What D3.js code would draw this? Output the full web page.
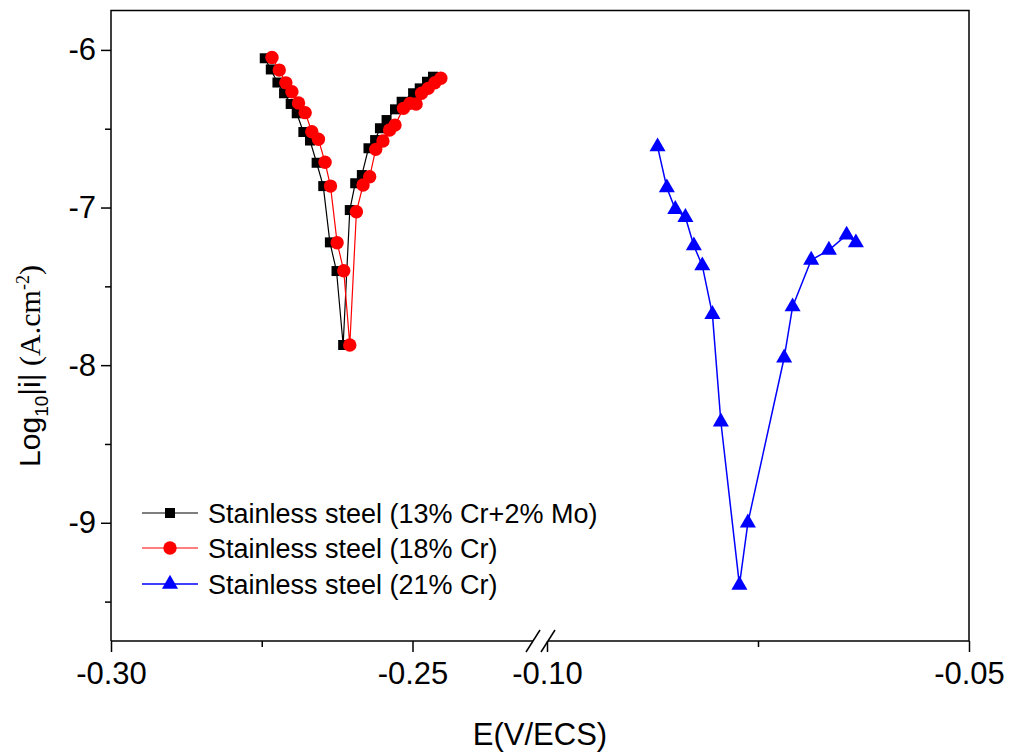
<!DOCTYPE html>
<html>
<head>
<meta charset="utf-8">
<script src="https://cdn.jsdelivr.net/npm/d3@7"></script>
<style>
  html, body { margin: 0; padding: 0; background: #fff; }
  svg { display: block; }
  text { font-family: "Liberation Sans", Arial, sans-serif; fill: #000; }
</style>
</head>
<body>
<svg id="chart" width="1010" height="752"></svg>
<script>
// Polarisation curves: potential E (V/ECS) vs log10 |i| (A.cm-2)

// 13% Cr + 2% Mo
const eMo = [-0.2745, -0.2735, -0.2724, -0.2713, -0.2702, -0.2692, -0.2681, -0.2670, -0.2659, -0.2648, -0.2637, -0.2626, -0.2615,
             -0.2604, -0.2595, -0.2584, -0.2573, -0.2562, -0.2554, -0.2543, -0.2529, -0.2518, -0.2499, -0.2488, -0.2476, -0.2466];
const iMo = [-6.053, -6.124, -6.207, -6.275, -6.343, -6.402, -6.521, -6.575, -6.716, -6.864, -7.221, -7.403, -7.872,
             -7.016, -6.846, -6.794, -6.624, -6.572, -6.497, -6.445, -6.377, -6.329, -6.275, -6.244, -6.202, -6.170];

// 18% Cr
const eCr18 = [-0.2733, -0.2721, -0.2710, -0.2700, -0.2689, -0.2678, -0.2667, -0.2656, -0.2645, -0.2636, -0.2625, -0.2614, -0.2604,
               -0.2593, -0.2582, -0.2571, -0.2561, -0.2549, -0.2538, -0.2529, -0.2515, -0.2504, -0.2494, -0.2485, -0.2474, -0.2463, -0.2453];
const iCr18 = [-6.048, -6.128, -6.209, -6.265, -6.337, -6.398, -6.519, -6.567, -6.713, -6.864, -7.223, -7.401, -7.872,
               -7.027, -6.857, -6.805, -6.631, -6.578, -6.508, -6.477, -6.371, -6.339, -6.343, -6.275, -6.244, -6.208, -6.180];

// 21% Cr
const eCr21 = [-0.0869, -0.0858, -0.0848, -0.0836, -0.0826, -0.0816, -0.0804, -0.0794, -0.0772, -0.0762,
               -0.0719, -0.0709, -0.0687, -0.0666, -0.0645, -0.0634];
const iCr21 = [-6.614, -6.874, -7.011, -7.062, -7.242, -7.369, -7.678, -8.359, -9.395, -9.000,
               -7.953, -7.629, -7.333, -7.270, -7.174, -7.223];

const seriesNames = ["Stainless steel (13% Cr+2% Mo)", "Stainless steel (18% Cr)", "Stainless steel (21% Cr)"];
const seriesColors = ["#000000", "#ff0000", "#0000ff"];

// Broken x axis: two segments
const xLeftDomain = [-0.30, -0.23];
const xRightDomain = [-0.10, -0.05];
const xLeftMajor = [-0.30, -0.25], xLeftMinor = [-0.275];
const xRightMajor = [-0.10, -0.05], xRightMinor = [-0.075];
const yDomain = [-9.75, -5.75];
const yMajor = [-9, -8, -7, -6], yMinor = [-9.5, -8.5, -7.5, -6.5];

const svg = d3.select("#chart");
const L = 111, R = 969, T = 10.5, B = 641;
const xLeft = d3.scaleLinear().domain(xLeftDomain).range([L, L + 0.07 * 6030]);
const xRight = d3.scaleLinear().domain(xRightDomain).range([547, R]);
const y = d3.scaleLinear().domain(yDomain).range([B, T]);

const xOf = e => (e <= -0.2 ? xLeft(e) : xRight(e));

// Frame: top, left, right; bottom drawn in two pieces around the break
const frame = svg.append("g").attr("stroke", "#000").attr("stroke-width", 1.5).attr("fill", "none");
frame.append("path").attr("d", `M${L},${B}V${T}H${R}V${B}`);
frame.append("line").attr("x1", L).attr("x2", 533).attr("y1", B).attr("y2", B);
frame.append("line").attr("x1", 548).attr("x2", R).attr("y1", B).attr("y2", B);
// break marks
[[533], [548]].forEach(([cx]) => {
  frame.append("line").attr("x1", cx - 7).attr("y1", B + 11).attr("x2", cx + 7).attr("y2", B - 11);
});

const fmtX = d => d.toFixed(2);
function xAxis(scale, major, minor) {
  const gMaj = svg.append("g").attr("transform", `translate(0,${B})`)
    .call(d3.axisBottom(scale).tickValues(major).tickSize(11).tickSizeOuter(0).tickPadding(10).tickFormat(fmtX));
  gMaj.select(".domain").remove();
  gMaj.selectAll("line").attr("stroke-width", 1.5);
  gMaj.selectAll("text").attr("font-size", 31).attr("font-family", "Liberation Sans, Arial, sans-serif");
  const gMin = svg.append("g").attr("transform", `translate(0,${B})`)
    .call(d3.axisBottom(scale).tickValues(minor).tickSize(6).tickSizeOuter(0).tickFormat(""));
  gMin.select(".domain").remove();
  gMin.selectAll("line").attr("stroke-width", 1.5);
}
xAxis(xLeft, xLeftMajor, xLeftMinor);
xAxis(xRight, xRightMajor, xRightMinor);

const gy = svg.append("g").attr("transform", `translate(${L},0)`)
  .call(d3.axisLeft(y).tickValues(yMajor).tickSize(10).tickSizeOuter(0).tickPadding(5).tickFormat(d => String(d)));
gy.select(".domain").remove();
gy.selectAll("line").attr("stroke-width", 1.5);
gy.selectAll("text").attr("font-size", 31).attr("font-family", "Liberation Sans, Arial, sans-serif");
const gyMin = svg.append("g").attr("transform", `translate(${L},0)`)
  .call(d3.axisLeft(y).tickValues(yMinor).tickSize(6).tickSizeOuter(0).tickFormat(""));
gyMin.select(".domain").remove();
gyMin.selectAll("line").attr("stroke-width", 1.5);

// Axis titles
svg.append("text").attr("x", (L + R) / 2).attr("y", 745).attr("text-anchor", "middle")
  .attr("font-size", 31).text("E(V/ECS)");

const yt = svg.append("text").attr("transform", "translate(40,366) rotate(-90)").attr("text-anchor", "middle")
  .attr("font-size", 30);
yt.append("tspan").text("Log");
yt.append("tspan").attr("font-size", 19).attr("dy", 8).text("10");
yt.append("tspan").attr("dy", -8).text("|i|");
yt.append("tspan").attr("font-family", "Liberation Serif, Times New Roman, serif").text("\u00a0(A.cm");
yt.append("tspan").attr("font-family", "Liberation Serif, Times New Roman, serif").attr("font-size", 18).attr("dy", -11).text("-2");
yt.append("tspan").attr("font-family", "Liberation Serif, Times New Roman, serif").attr("dy", 11).text(")");

// Series
const series = [
  { e: eMo, i: iMo, color: seriesColors[0], shape: "square", width: 1.2 },
  { e: eCr18, i: iCr18, color: seriesColors[1], shape: "circle", width: 1.2 },
  { e: eCr21, i: iCr21, color: seriesColors[2], shape: "triangle", width: 1.5 }
];

function marker(g, shape, color, cx, cy) {
  if (shape === "circle") {
    g.append("circle").attr("cx", cx).attr("cy", cy).attr("r", 6.7).attr("fill", color);
  } else {
    const sym = shape === "square" ? d3.symbol(d3.symbolSquare, 100) : d3.symbol(d3.symbolTriangle, 112);
    g.append("path").attr("d", sym()).attr("transform", `translate(${cx},${cy})`).attr("fill", color);
  }
}

const line = d3.line().x(d => xOf(d[0])).y(d => y(d[1]));
series.forEach(s => {
  const pts = s.e.map((e, k) => [e, s.i[k]]);
  const g = svg.append("g");
  g.append("path").datum(pts).attr("d", line).attr("fill", "none")
    .attr("stroke", s.color).attr("stroke-width", s.width);
  pts.forEach(p => marker(g, s.shape, s.color, xOf(p[0]), y(p[1])));
});

// Legend
const legend = svg.append("g");
[513, 548, 584].forEach((ry, k) => {
  const s = series[k];
  legend.append("line").attr("x1", 142).attr("x2", 198).attr("y1", ry).attr("y2", ry)
    .attr("stroke", s.color).attr("stroke-width", s.width);
  marker(legend, s.shape, s.color, 170, ry);
  legend.append("text").attr("x", 208).attr("y", ry + 9.5).attr("font-size", 27).text(seriesNames[k]);
});
</script>
</body>
</html>
